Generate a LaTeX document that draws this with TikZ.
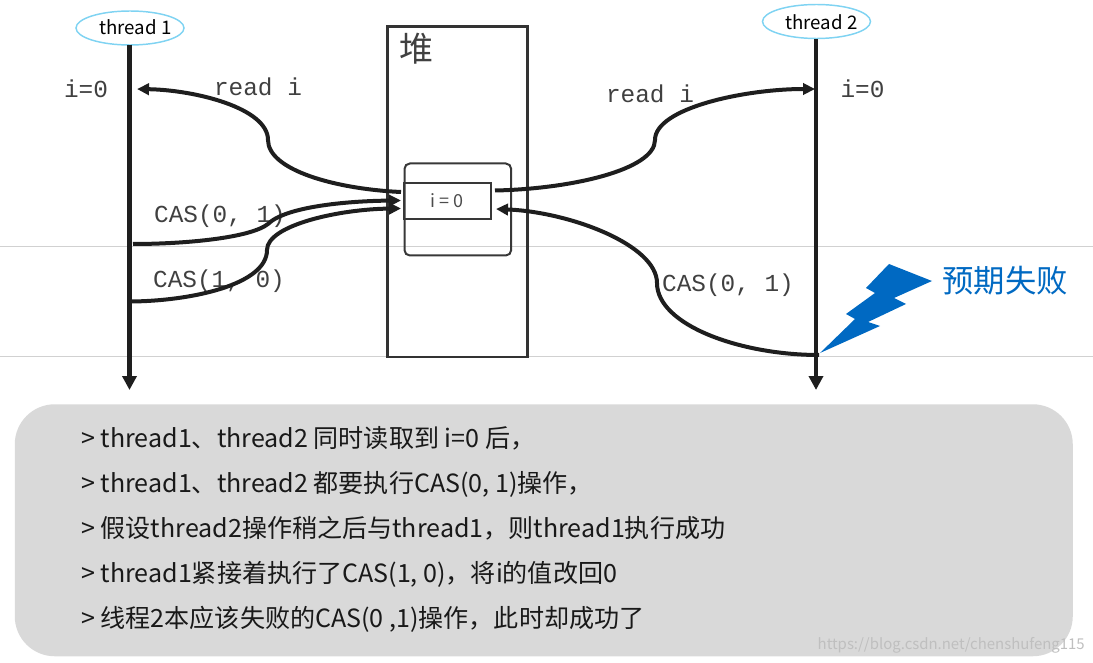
\documentclass[tikz,border=0pt]{standalone}
\usepackage{fontspec}
\setmainfont{Noto Sans CJK SC}
\newfontfamily\monof{Liberation Mono}
\usetikzlibrary{arrows.meta,shapes.geometric}
\definecolor{inkc}{HTML}{1E1E1E}
\definecolor{boltc}{HTML}{0069C2}
\definecolor{ellc}{HTML}{7FD3F2}
\tikzset{
  px/.style={x=0.75pt,y=-0.75pt},
  lifeline/.style={draw=inkc,line width=3.5pt,-{Triangle[length=10.5pt,width=10.5pt]}},
  flow/.style={draw=inkc,line width=3pt},
  flowa/.style={flow,-{Triangle[length=9pt,width=8.5pt]}},
  thr/.style={ellipse,draw=ellc,line width=1.1pt,minimum width=81pt,minimum height=25.5pt,inner sep=0pt},
  lbl/.style={font=\fontsize{18.3}{20}\monof,text=black!75,inner sep=0pt},
  thrtext/.style={font=\fontsize{14}{16}\selectfont,inner sep=0pt},
  guide/.style={draw=black!18,line width=0.8pt},
  heap/.style={draw=black!80,line width=1.9pt},
  para/.style={font=\fontsize{18.8}{20}\selectfont,anchor=base west,inner sep=0pt,text=black!90},
}
\begin{document}
\begin{tikzpicture}[px]
\useasboundingbox (0,0) rectangle (1093,663);
% guides
\draw[guide] (0,246.5) -- (1093,246.5);
\draw[guide] (0,356.5) -- (1093,356.5);
% heap
\node[heap,rectangle,minimum width=105pt,minimum height=248pt,inner sep=0pt,anchor=north west] (heapbox) at (386,25) {};
\node[font=\fontsize{25.5}{27}\selectfont,text=black!75,inner sep=0pt] (heaplabel) at (416.5,48.5) {堆};
\node[draw=black!78,line width=1.5pt,rounded corners=4pt,minimum width=80pt,minimum height=69pt,inner sep=0pt,anchor=north west] (obj) at (403.5,162.5) {};
\node[draw=black!78,line width=1.7pt,minimum width=65pt,minimum height=27pt,inner sep=0pt,anchor=north west,font=\fontsize{13.5}{15}\selectfont,text=black!70] (field) at (403,182) {i = 0};
% labels
\node[lbl] (ia) at (86,89) {i=0};
\node[lbl] (ib) at (862.5,89) {i=0};
\node[lbl] (ra) at (258,86.5) {read i};
\node[lbl] (rb) at (650,93.5) {read i};
\node[lbl] (ca) at (220,216) {CAS(0, 1)};
\node[lbl] (cb) at (219,281) {CAS(1, 0)};
\node[lbl] (cc) at (728,285) {CAS(0, 1)};
% threads
\node[thr] (t1) at (130,28) {};
\node[thrtext] (t1l) at (135.5,27.5) {thread 1};
\node[thr] (t2) at (816.5,21.5) {};
\node[thrtext] (t2l) at (821.5,22) {thread 2};
\coordinate (t1top) at (129.5,45);
\coordinate (t1end) at (129.5,390);
\coordinate (t2top) at (816,39);
\coordinate (t2end) at (816,390);
\draw[lifeline] (t1top) -- (t1end);
\draw[lifeline] (t2top) -- (t2end);
% flow end points
\coordinate (ra0) at (401,192);
\coordinate (ra1) at (268,140);
\coordinate (ra2) at (137,89);
\coordinate (ca0) at (133,244);
\coordinate (ca1) at (268,224);
\coordinate (ca2) at (401,200.5);
\coordinate (cb0) at (131,301.5);
\coordinate (cb1) at (267,250);
\coordinate (cb2) at (401,208.5);
\coordinate (rb0) at (495,190.5);
\coordinate (rb1) at (655,140);
\coordinate (rb2) at (815,89);
\coordinate (cc0) at (819,355);
\coordinate (cc1) at (657,283);
\coordinate (cc2) at (496,209);
\draw[flowa] (ra0) .. controls (335,189) and (268,170) .. (ra1) .. controls (268,108) and (195,90) .. (ra2);
\draw[flowa] (ca0) .. controls (185,244) and (250,238) .. (ca1) .. controls (285,207) and (345,201) .. (ca2);
\draw[flowa] (cb0) .. controls (190,301) and (267,285) .. (cb1) .. controls (267,225) and (340,209) .. (cb2);
\draw[flowa] (rb0) .. controls (570,189) and (655,170) .. (rb1) .. controls (655,108) and (745,89) .. (rb2);
\draw[flowa] (cc0) .. controls (740,355) and (657,325) .. (cc1) .. controls (657,245) and (570,212) .. (cc2);
% bolt
\fill[boltc] (820,353) -- (880,326) -- (868,322) -- (906,304) -- (894,298) -- (932,281) -- (889,264) -- (866,288) -- (875,293) -- (846,314) -- (855,319) -- cycle;
\node[font=\fontsize{23.5}{26}\selectfont,text=boltc,inner sep=0pt] (fail) at (1005,281) {预期失败};
% panel
\node[fill=black!15,rounded corners=30pt,minimum width=793.5pt,minimum height=189pt,inner sep=0pt,anchor=north west] (panel) at (14.5,404) {};
\node[para] (p1) at (81,447) {> thread1、thread2 同时读取到 i=0 后，};
\node[para] (p2) at (81,492) {> thread1、thread2 都要执行CAS(0, 1)操作，};
\node[para] (p3) at (81,537) {> 假设thread2操作稍之后与thread1，则thread1执行成功};
\node[para] (p4) at (81,582) {> thread1紧接着执行了CAS(1, 0)，将i的值改回0};
\node[para] (p5) at (81,627) {> 线程2本应该失败的CAS(0 ,1)操作，此时却成功了};
\node[font=\fontsize{11.2}{13}\selectfont,text=black!25,inner sep=0pt,anchor=east] (wm) at (1085,645) {https://blog.csdn.net/chenshufeng115};
\end{tikzpicture}
\end{document}
